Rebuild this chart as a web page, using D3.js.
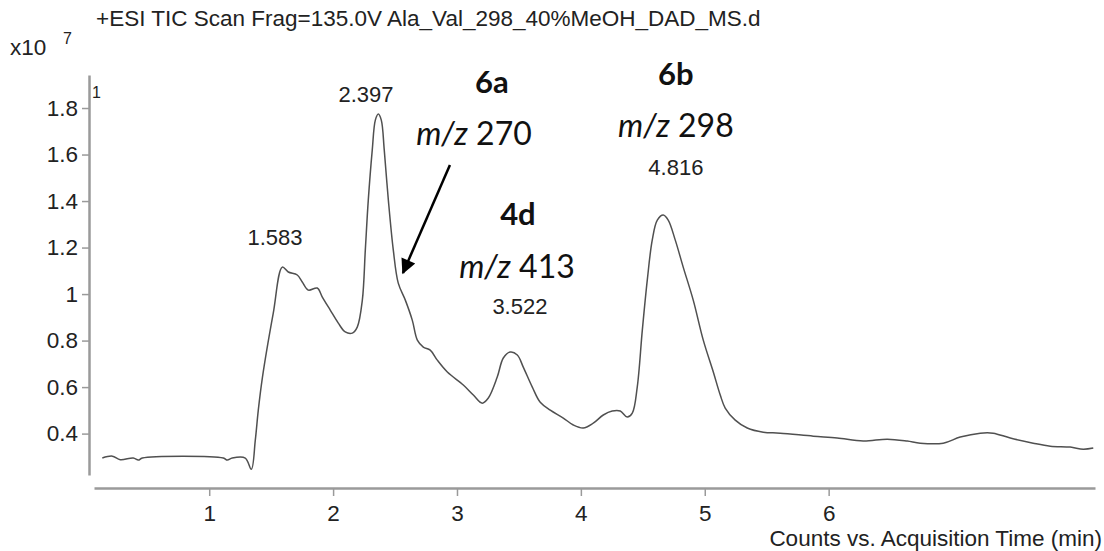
<!doctype html>
<html>
<head>
<meta charset="utf-8">
<script src="https://cdn.jsdelivr.net/npm/d3@7/dist/d3.min.js"></script>
<style>
  body { margin: 0; background: #fff; }
  text { font-family: "Liberation Sans", Arial, sans-serif; fill: #222; }
  .note { font-family: Lato, "Open Sans", sans-serif; fill: #111; }
</style>
</head>
<body>
<script>

var w = 1104, h = 551;

// TIC trace, time in min, counts in x10^7
var times = [0.137,0.218,0.282,0.387,0.428,0.460,1.114,1.146,1.186,1.291,1.340,1.372,1.396,1.429,
  1.517,1.590,1.638,1.711,1.751,1.800,1.872,1.913,1.977,2.042,2.098,2.155,2.195,2.236,2.260,
  2.284,2.316,2.341,2.365,2.389,2.413,2.446,2.486,2.526,2.583,2.639,2.680,2.728,2.784,2.841,
  2.922,3.051,3.132,3.204,3.253,3.325,3.374,3.430,3.487,3.535,3.608,3.672,3.753,3.858,3.939,
  4.019,4.100,4.181,4.253,4.318,4.374,4.415,4.455,4.496,4.536,4.576,4.617,4.665,4.705,4.762,
  4.826,4.907,4.988,5.069,5.125,5.165,5.246,5.343,5.472,5.609,5.876,6.069,6.279,6.473,6.634,
  6.739,6.925,7.062,7.224,7.328,7.466,7.651,7.789,7.950,8.055,8.136];
var counts = [0.295,0.303,0.288,0.295,0.286,0.295,0.295,0.286,0.295,0.295,0.247,0.372,0.500,0.640,
  0.918,1.116,1.095,1.082,1.052,1.017,1.026,0.987,0.931,0.875,0.837,0.832,0.858,0.974,1.189,
  1.404,1.619,1.748,1.774,1.748,1.619,1.404,1.189,1.047,0.974,0.888,0.802,0.772,0.759,0.716,
  0.665,0.609,0.566,0.531,0.553,0.643,0.725,0.751,0.738,0.686,0.600,0.535,0.501,0.467,0.437,
  0.424,0.445,0.480,0.497,0.497,0.471,0.488,0.600,0.845,1.060,1.232,1.318,1.340,1.318,1.232,
  1.116,0.974,0.802,0.665,0.566,0.510,0.458,0.424,0.406,0.402,0.389,0.381,0.368,0.376,0.368,
  0.359,0.359,0.385,0.402,0.402,0.381,0.359,0.346,0.342,0.333,0.338];

var xTicks = [1, 2, 3, 4, 5, 6];
var yTicks = [0.4, 0.6, 0.8, 1, 1.2, 1.4, 1.6, 1.8];

// retention time labels [text, t, counts]
var peakLabels = [["1.583", 1.531, 1.211], ["2.397", 2.265, 1.826],
                  ["3.522", 3.508, 0.914], ["4.816", 4.767, 1.512]];
// compound notes [text, t, counts, bold]
var compoundNotes = [["6a", 3.282, 1.865, true], ["m/z 270", 3.137, 1.641, false],
                     ["4d", 3.492, 1.297, true], ["m/z 413", 3.484, 1.069, false],
                     ["6b", 4.767, 1.899, true], ["m/z 298", 4.767, 1.675, false]];
var arrowFrom = [2.943, 1.555], arrowTo = [2.564, 1.091];

var svg = d3.select("body").append("svg").attr("width", w).attr("height", h);

var x = d3.scaleLinear().domain([0.07, 8.15]).range([94, 1095]);
var y = d3.scaleLinear().domain([0.222, 1.942]).range([475, 75]);

svg.append("defs").append("marker")
   .attr("id", "head")
   .attr("viewBox", "0 0 10 10")
   .attr("refX", 9).attr("refY", 5)
   .attr("markerWidth", 19).attr("markerHeight", 15)
   .attr("markerUnits", "userSpaceOnUse")
   .attr("orient", "auto")
  .append("path")
   .attr("d", "M0,0L10,5L0,10z")
   .attr("fill", "#000");

// axes
var gx = svg.append("g").attr("transform", "translate(0,488)")
  .call(d3.axisBottom(x).tickValues(xTicks).tickSize(8).tickPadding(9).tickSizeOuter(0));
var gy = svg.append("g").attr("transform", "translate(89,0)")
  .call(d3.axisLeft(y).tickValues(yTicks).tickSize(7).tickPadding(4).tickSizeOuter(0)
    .tickFormat(function(d){ return String(+d.toFixed(1)); }));

[gx, gy].forEach(function(g){
  g.select(".domain").attr("stroke", "#9a9a9a").attr("stroke-width", 2.5);
  g.selectAll(".tick line").attr("stroke", "#9a9a9a").attr("stroke-width", 1.5);
  g.selectAll(".tick text").attr("font-size", 22.5).attr("fill", "#222")
   .attr("font-family", "Liberation Sans, Arial, sans-serif");
});

// trace
var line = d3.line()
  .x(function(d,i){ return x(times[i]); })
  .y(function(d){ return y(d); })
  .curve(d3.curveCatmullRom.alpha(0.5));

svg.append("path")
   .datum(counts)
   .attr("d", line)
   .attr("fill", "none")
   .attr("stroke", "#505050")
   .attr("stroke-width", 1.5);

// header texts
svg.append("text").attr("x", 96).attr("y", 26).attr("font-size", 22.5)
   .text("+ESI TIC Scan Frag=135.0V Ala_Val_298_40%MeOH_DAD_MS.d");
svg.append("text").attr("x", 10).attr("y", 55).attr("font-size", 22.5).text("x10");
svg.append("text").attr("x", 63).attr("y", 44).attr("font-size", 16).text("7");
svg.append("text").attr("x", 92).attr("y", 98).attr("font-size", 16).text("1");

svg.append("text").attr("x", 1102).attr("y", 546).attr("font-size", 22.5)
   .attr("text-anchor", "end").text("Counts vs. Acquisition Time (min)");

// peak labels
svg.selectAll(".peak").data(peakLabels).enter().append("text")
   .attr("class", "peak")
   .attr("x", function(d){ return x(d[1]); })
   .attr("y", function(d){ return y(d[2]); })
   .attr("text-anchor", "middle")
   .attr("font-size", 22)
   .text(function(d){ return d[0]; });

// compound notes
var notes = svg.selectAll(".note").data(compoundNotes).enter().append("text")
   .attr("class", "note")
   .attr("x", function(d){ return x(d[1]); })
   .attr("y", function(d){ return y(d[2]); })
   .attr("text-anchor", "middle")
   .attr("font-size", function(d){ return d[3] ? 31 : 32; })
   .attr("font-weight", function(d){ return d[3] ? "bold" : "normal"; });

notes.each(function(d){
  var t = d3.select(this);
  if (d[3]) { t.text(d[0]); return; }
  var parts = d[0].split(" ");
  t.append("tspan").attr("font-style", "italic").text(parts[0]);
  t.append("tspan").text(" " + parts[1]);
});

svg.append("line")
   .attr("x1", x(arrowFrom[0])).attr("y1", y(arrowFrom[1]))
   .attr("x2", x(arrowTo[0])).attr("y2", y(arrowTo[1]))
   .attr("stroke", "#000").attr("stroke-width", 2.5)
   .attr("marker-end", "url(#head)");

</script>
</body>
</html>
